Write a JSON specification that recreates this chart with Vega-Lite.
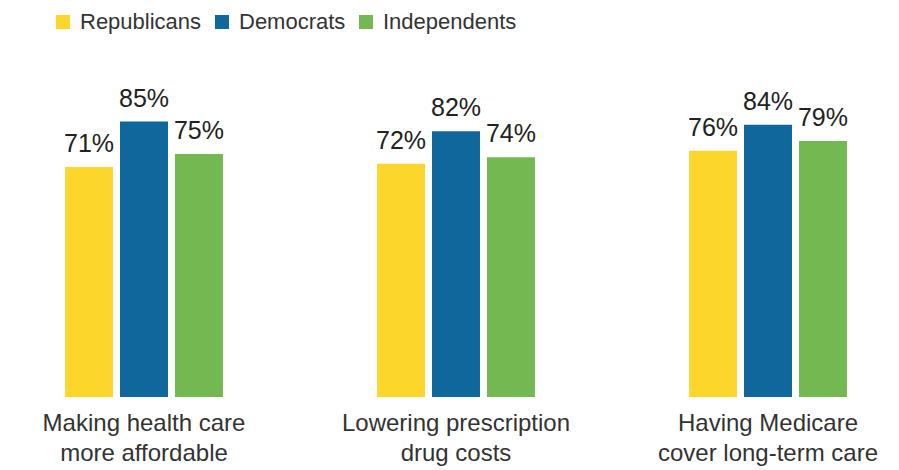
{
  "$schema": "https://vega.github.io/schema/vega-lite/v6.json",
  "autosize": "none",
  "width": 883,
  "height": 324,
  "padding": {"left": 12, "top": 73, "right": 4, "bottom": 73},
  "background": "white",
  "config": {"view": {"stroke": null}, "font": "Liberation Sans"},
  "data": {"values": [
    {"issue": "Making health care|more affordable", "party": "Republicans", "share": 0.71},
    {"issue": "Making health care|more affordable", "party": "Democrats", "share": 0.85},
    {"issue": "Making health care|more affordable", "party": "Independents", "share": 0.75},
    {"issue": "Lowering prescription|drug costs", "party": "Republicans", "share": 0.72},
    {"issue": "Lowering prescription|drug costs", "party": "Democrats", "share": 0.82},
    {"issue": "Lowering prescription|drug costs", "party": "Independents", "share": 0.74},
    {"issue": "Having Medicare|cover long-term care", "party": "Republicans", "share": 0.76},
    {"issue": "Having Medicare|cover long-term care", "party": "Democrats", "share": 0.84},
    {"issue": "Having Medicare|cover long-term care", "party": "Independents", "share": 0.79}
  ]},
  "encoding": {
    "x": {
      "field": "issue", "type": "nominal", "sort": null,
      "scale": {"range": [-24, 912], "paddingInner": 0.494, "paddingOuter": 0.247},
      "axis": {
        "title": null, "domain": false, "ticks": false,
        "labelExpr": "split(datum.label, '|')",
        "labelFontSize": 24, "labelColor": "#333333", "labelAngle": 0, "labelLimit": 0,
        "labelLineHeight": 30, "labelPadding": 14, "labelFont": "Liberation Sans"
      }
    },
    "xOffset": {"field": "party", "type": "nominal", "sort": ["Republicans", "Democrats", "Independents"],
      "scale": {"paddingInner": 0.127, "paddingOuter": 0}},
    "y": {"field": "share", "type": "quantitative", "scale": {"domain": [0, 1]}, "axis": null}
  },
  "layer": [
    {
      "mark": {"type": "bar"},
      "encoding": {
        "color": {
          "field": "party", "type": "nominal",
          "sort": ["Republicans", "Democrats", "Independents"],
          "scale": {"domain": ["Republicans", "Democrats", "Independents"], "range": ["#fdd62c", "#10679b", "#73b850"]},
          "legend": {
            "title": null, "orient": "none", "direction": "horizontal",
            "legendX": 40, "legendY": -62,
            "symbolType": "square", "symbolSize": 196, "symbolStrokeWidth": 0, "symbolOpacity": 1,
            "labelFontSize": 22, "labelColor": "#333333", "labelOffset": 6,
            "columnPadding": 9, "labelFont": "Liberation Sans"
          }
        }
      }
    },
    {
      "mark": {"type": "text", "dy": -15, "baseline": "alphabetic", "fontSize": 25, "color": "#222222", "font": "Liberation Sans"},
      "encoding": {"text": {"field": "share", "type": "quantitative", "format": ".0%"}}
    },
    {
      "data": {"values": [{"v": 0}]},
      "mark": {"type": "rule", "color": "#bbbbbb", "strokeWidth": 2},
      "encoding": {"y": {"datum": 0, "type": "quantitative"}, "x": null, "xOffset": null}
    }
  ]
}
